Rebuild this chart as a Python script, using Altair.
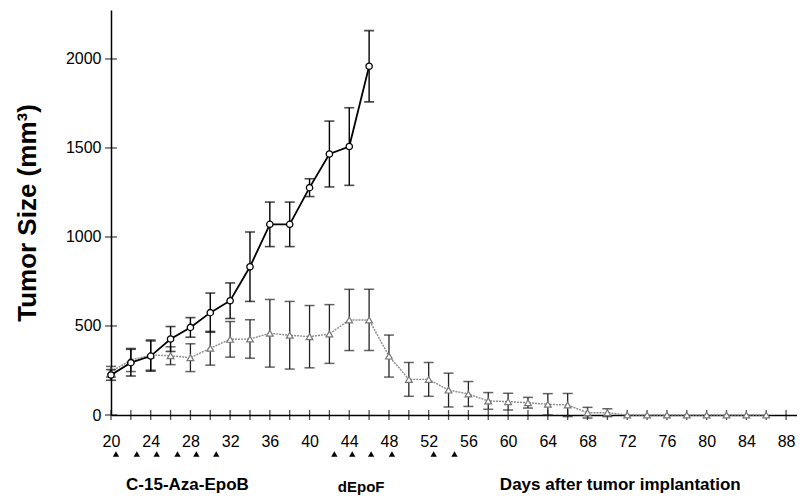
import altair as alt
import pandas as pd

# ---- data ----
ctrl_days = [20, 22, 24, 26, 28, 30, 32, 34, 36, 38, 40, 42, 44, 46]
ctrl_mean = [225, 294, 331, 427, 492, 575, 642, 833, 1071, 1071, 1277, 1466, 1508, 1959]
ctrl_err = [30, 75, 85, 70, 55, 110, 100, 195, 125, 125, 50, 185, 218, 200]

trt_days = [20, 22, 24, 26, 28, 30, 32, 34, 36, 38, 40, 42, 44, 46, 48, 50, 52, 54,
            56, 58, 60, 62, 64, 66, 68, 70, 72, 74, 76, 78, 80, 82, 84, 86]
trt_mean = [243, 309, 337, 333, 322, 375, 425, 427, 459, 448, 440, 455, 534, 534, 331, 200, 200, 140,
            118, 79, 75, 69, 60, 56, 13, 13, 0, 0, 0, 0, 0, 0, 0, 0]
trt_err = [30, 65, 85, 50, 78, 95, 100, 108, 190, 190, 175, 165, 172, 172, 118, 95, 95, 95,
           70, 47, 47, 30, 60, 65, 30, 22, 0, 0, 0, 0, 0, 0, 0, 0]

dose_days = [20.5, 22.6, 24.6, 26.7, 28.6, 30.6, 42.5, 44.3, 46.2, 48.3, 52.5, 54.6]

x_tick_days = list(range(20, 90, 2))
y_tick_vals = [0, 500, 1000, 1500, 2000]

drug_text = ["C-15-Aza-EpoB", "Days after tumor implantation"]
drug_day = [27.7, 71.3]
drug2_text = ["dEpoF"]
drug2_day = [45.2]

# ---- tables ----
ctrl = pd.DataFrame({"day": ctrl_days, "mean": ctrl_mean, "err": ctrl_err})
ctrl["lo"] = ctrl["mean"] - ctrl["err"]
ctrl["hi"] = ctrl["mean"] + ctrl["err"]
trt = pd.DataFrame({"day": trt_days, "mean": trt_mean, "err": trt_err})
trt["lo"] = trt["mean"] - trt["err"]
trt["hi"] = trt["mean"] + trt["err"]
trt_eb = trt[trt["err"] > 0]
ctrl_eb = ctrl[ctrl["err"] > 0]
xt_df = pd.DataFrame({"tickday": x_tick_days, "zero": [0] * len(x_tick_days)})
yt_df = pd.DataFrame({"tickval": y_tick_vals, "start": [20] * len(y_tick_vals)})

xs = alt.Scale(domain=[20, 89.1], nice=False, zero=False)
ys = alt.Scale(domain=[0, 2275], nice=False)

FONT = "Liberation Sans"

xaxis = alt.Axis(values=x_tick_days, ticks=False, labelPadding=18, labelFontSize=16,
                 labelExpr="datum.value % 4 == 0 ? datum.label : ''",
                 labelFont=FONT, labelColor="black", domainColor="black", domainWidth=1.5,
                 grid=False, title=None, labelFlush=False, format="d")
yaxis = alt.Axis(values=y_tick_vals, ticks=False, labelPadding=10, labelFontSize=16,
                 labelFont=FONT, labelColor="black", domainColor="black", domainWidth=1.5,
                 grid=False, title="Tumor Size (mm³)", titleFont=FONT, titleFontSize=26,
                 titleFontWeight="bold", titleColor="black", titlePadding=25, format="d")


def X(field="day"):
    return alt.X(f"{field}:Q", scale=xs, axis=xaxis)


def Y(field):
    return alt.Y(f"{field}:Q", scale=ys, axis=yaxis)


# tick marks crossing the axes
xt = alt.Chart(xt_df).mark_tick(orient="vertical", size=10, thickness=1.3, color="black").encode(
    x=X("tickday"), y=Y("zero"))
yt = alt.Chart(yt_df).mark_tick(orient="horizontal", size=12, thickness=1.3, color="black").encode(
    x=X("start"), y=Y("tickval"))

# treatment series
trt_rule = alt.Chart(trt_eb).mark_rule(color="#222", strokeWidth=1.3).encode(
    x=X(), y=Y("lo"), y2="hi")
trt_cap_hi = alt.Chart(trt_eb).mark_tick(orient="horizontal", size=10, thickness=1.5, color="#222").encode(
    x=X(), y=Y("hi"))
trt_cap_lo = alt.Chart(trt_eb).mark_tick(orient="horizontal", size=10, thickness=1.5, color="#222").encode(
    x=X(), y=Y("lo"))
trt_line = alt.Chart(trt).mark_line(color="#8a8a8a", strokeWidth=1.4, strokeDash=[2, 1]).encode(
    x=X(), y=Y("mean"))
trt_pts = alt.Chart(trt).mark_point(shape="triangle-up", filled=True, fill="white", stroke="#777",
                                    strokeWidth=1.2, size=45, opacity=1).encode(x=X(), y=Y("mean"))

# control series
ctrl_rule = alt.Chart(ctrl_eb).mark_rule(color="black", strokeWidth=1.4).encode(
    x=X(), y=Y("lo"), y2="hi")
ctrl_cap_hi = alt.Chart(ctrl_eb).mark_tick(orient="horizontal", size=10, thickness=1.6, color="black").encode(
    x=X(), y=Y("hi"))
ctrl_cap_lo = alt.Chart(ctrl_eb).mark_tick(orient="horizontal", size=10, thickness=1.6, color="black").encode(
    x=X(), y=Y("lo"))
ctrl_line = alt.Chart(ctrl).mark_line(color="black", strokeWidth=1.8).encode(x=X(), y=Y("mean"))
ctrl_pts = alt.Chart(ctrl).mark_point(shape="circle", filled=True, fill="white", stroke="black",
                                      strokeWidth=1.3, size=40, opacity=1).encode(x=X(), y=Y("mean"))

# dosing arrows
arrows = alt.Chart(pd.DataFrame({"day": dose_days})).mark_point(
    shape="triangle-up", filled=True, color="black", size=40, opacity=1).encode(
    x=X(), y=alt.value(444))

notes = alt.Chart(pd.DataFrame({"day": drug_day, "t": drug_text})).mark_text(
    font=FONT, fontSize=17, fontWeight="bold", color="black", align="center", baseline="middle").encode(
    x=X(), y=alt.value(475), text="t:N")
notes2 = alt.Chart(pd.DataFrame({"day": drug2_day, "t": drug2_text})).mark_text(
    font=FONT, fontSize=15, fontWeight="bold", color="black", align="center", baseline="middle").encode(
    x=X(), y=alt.value(477), text="t:N")

chart = alt.layer(
    xt, yt,
    trt_rule, trt_cap_hi, trt_cap_lo, trt_line, trt_pts,
    ctrl_rule, ctrl_cap_hi, ctrl_cap_lo, ctrl_line, ctrl_pts,
    arrows, notes, notes2,
).properties(
    width=686, height=405,
    autosize=alt.AutoSizeParams(type="none"),
    padding={"left": 103, "top": 2, "right": 0, "bottom": 83},
    background="white",
).configure_view(stroke=None)

chart.save("out.html", embed_options={"renderer": "svg", "actions": False})
